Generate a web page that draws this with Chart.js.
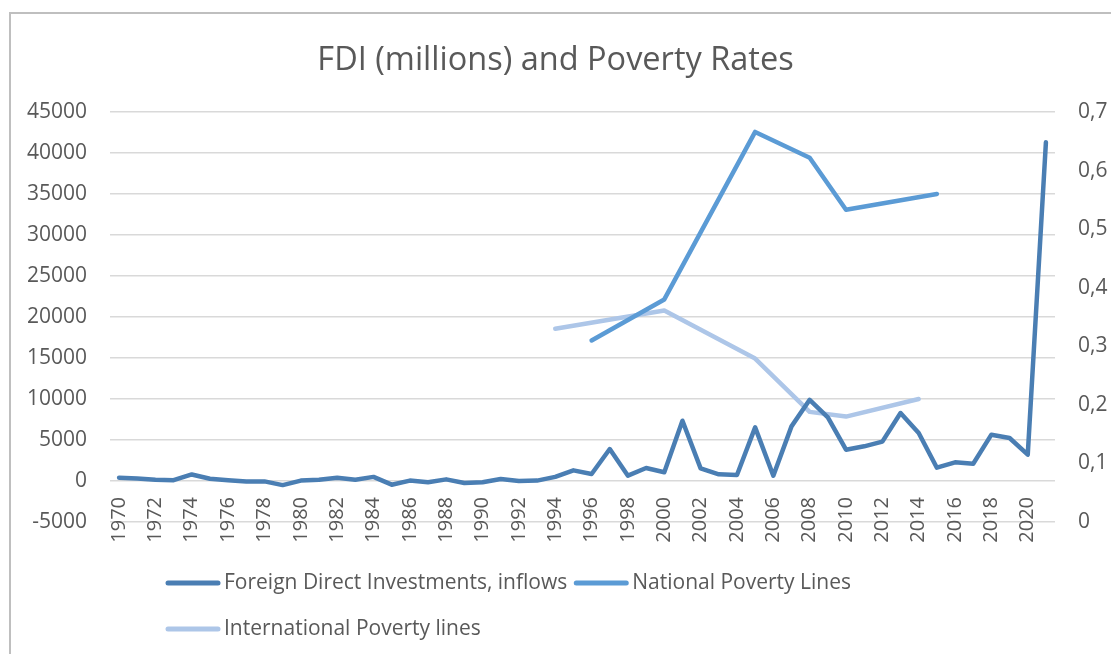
<!DOCTYPE html>
<html>
<head>
<meta charset="utf-8">
<script src="https://cdn.jsdelivr.net/npm/chart.js@4.4.1/dist/chart.umd.min.js"></script>
<style>
  html, body { margin: 0; padding: 0; background: #fff; overflow: hidden; }
  #frame { position: absolute; left: 9px; top: 12px; width: 1300px; height: 900px; border: 2px solid #bfbfbf; box-sizing: border-box; }
  #chart { position: absolute; left: 0; top: 0; }
</style>
</head>
<body>
<div id="frame"></div>
<canvas id="chart" width="1111" height="654"></canvas>
<script>
// years on the category axis
var years = [];
for (var y = 1970; y <= 2021; y++) years.push(String(y));

// FDI inflows, millions (left axis)
var fdi = [
  400, 300, 150, 100, 800, 280, 100, -50, -50, -500,
  50, 150, 400, 150, 500, -450, 50, -150, 200, -250,
  -150, 250, 0, 50, 500, 1300, 850, 3900, 650, 1580,
  1060, 7350, 1540, 810, 730, 6540, 650, 6660, 9900, 7760,
  3820, 4230, 4800, 8290, 5850, 1620, 2280, 2110, 5650, 5240,
  3210, 41300
];

// poverty rates (right axis), only the survey years
var nationalYears = ['1996', '2000', '2005', '2008', '2010', '2015'];
var nationalVals  = [0.31, 0.38, 0.666, 0.622, 0.533, 0.56];
var intlYears = ['1994', '2000', '2005', '2008', '2010', '2014'];
var intlVals  = [0.33, 0.361, 0.279, 0.188, 0.18, 0.21];

function spread(keys, vals) {
  return years.map(function (yr) {
    var i = keys.indexOf(yr);
    return i < 0 ? null : vals[i];
  });
}

var textColor = '#595959';
var font = '"Open Sans", "Liberation Sans", sans-serif';

var legendLines = {
  id: 'legendLines',
  afterDraw: function (chart) {
    var ctx = chart.ctx;
    var rows = [[0, 1], [2]];
    ctx.save();
    ctx.font = '21px ' + font;
    ctx.textBaseline = 'middle';
    rows.forEach(function (row, r) {
      var x = 166;
      var yy = 583 + r * 46;
      row.forEach(function (i) {
        var ds = chart.data.datasets[i];
        ctx.strokeStyle = ds.borderColor;
        ctx.lineWidth = 5;
        ctx.lineCap = 'round';
        ctx.beginPath();
        ctx.moveTo(x + 2, yy);
        ctx.lineTo(x + 52, yy);
        ctx.stroke();
        ctx.fillStyle = textColor;
        ctx.fillText(ds.label, x + 58, yy);
        x += 58 + ctx.measureText(ds.label).width + 7;
      });
    });
    ctx.restore();
  }
};

var line = { pointRadius: 0, borderWidth: 4.5, tension: 0, borderCapStyle: 'round', borderJoinStyle: 'round', spanGaps: true, fill: false };

new Chart(document.getElementById('chart').getContext('2d'), {
  type: 'line',
  data: {
    labels: years,
    datasets: [
      Object.assign({ label: 'Foreign Direct Investments, inflows', data: fdi, borderColor: '#4a7eb3', yAxisID: 'y' }, line),
      Object.assign({ label: 'National Poverty Lines', data: spread(nationalYears, nationalVals), borderColor: '#5b9bd5', yAxisID: 'y1' }, line),
      Object.assign({ label: 'International Poverty lines', data: spread(intlYears, intlVals), borderColor: '#adc6e8', yAxisID: 'y1' }, line)
    ]
  },
  options: {
    responsive: false,
    animation: false,
    layout: { padding: { left: 0, right: 0, top: 0, bottom: 132 } },
    plugins: {
      legend: { display: false },
      tooltip: { enabled: false },
      title: {
        display: true,
        text: 'FDI (millions) and Poverty Rates',
        color: textColor,
        font: { family: font, size: 32.5, weight: 'normal' },
        padding: { top: 41, bottom: 32 }
      }
    },
    scales: {
      x: {
        type: 'category',
        offset: true,
        position: { y: 0 },
        grid: { display: false, drawTicks: false },
        border: { display: false },
        ticks: {
          color: textColor,
          font: { family: font, size: 20 },
          autoSkip: false,
          minRotation: 90,
          maxRotation: 90,
          padding: 16,
          callback: function (v, i) { return i % 2 === 0 ? this.getLabelForValue(v) : ''; }
        }
      },
      y: {
        position: 'left',
        min: -5000,
        max: 45000,
        afterFit: function (s) { s.width = 110; },
        grid: { color: '#d9d9d9', lineWidth: 1.5, drawTicks: false },
        border: { display: false },
        ticks: {
          stepSize: 5000,
          color: textColor,
          font: { family: font, size: 21 },
          padding: 23,
          callback: function (v) { return String(v); }
        }
      },
      y1: {
        position: 'right',
        min: 0,
        max: 0.7,
        afterFit: function (s) { s.width = 56; },
        grid: { display: false, drawTicks: false },
        border: { display: false },
        ticks: {
          stepSize: 0.1,
          color: textColor,
          font: { family: font, size: 21 },
          padding: 23,
          callback: function (v) { var r = Math.round(v * 10) / 10; return r === 0 ? '0' : String(r).replace('.', ','); }
        }
      }
    }
  },
  plugins: [legendLines]
});
</script>
</body>
</html>
